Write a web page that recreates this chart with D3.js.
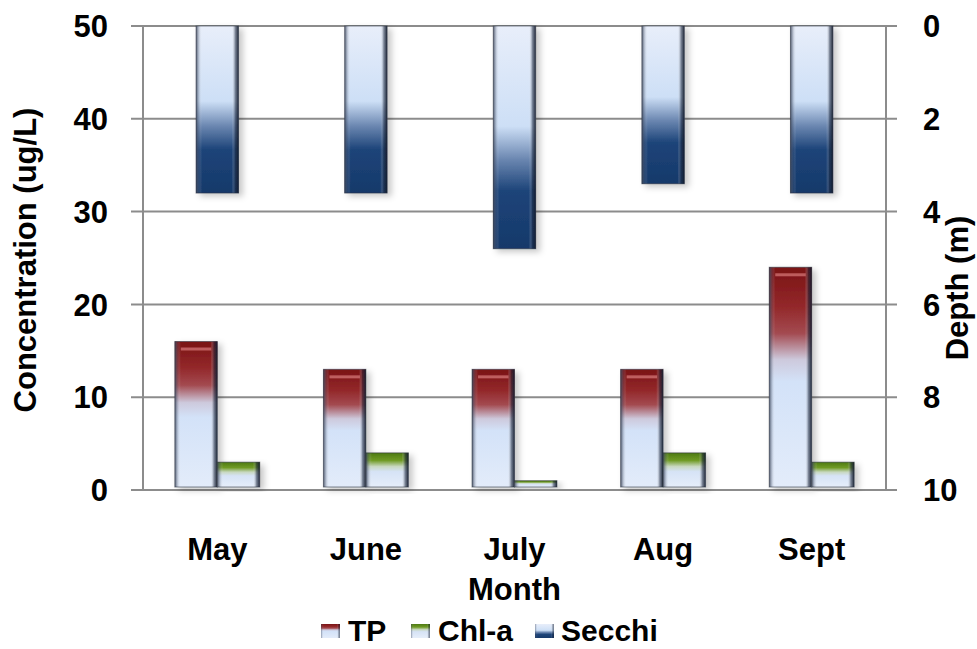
<!DOCTYPE html>
<html>
<head>
<meta charset="utf-8">
<script src="https://cdn.jsdelivr.net/npm/d3@7"></script>
<style>
  html, body { margin: 0; padding: 0; background: #fff; }
  svg { display: block; }
  text { font-family: "Liberation Sans", Arial, sans-serif; font-weight: bold; fill: #000; }
</style>
</head>
<body>
<svg id="chart" width="977" height="649"></svg>
<script>
const months = ["May", "June", "July", "Aug", "Sept"];
const tpValues = [16, 13, 13, 13, 24];
const chlValues = [3, 4, 1, 4, 3];
const secchiValues = [3.6, 3.6, 4.8, 3.4, 3.6];
const leftTicks = [0, 10, 20, 30, 40, 50];
const rightTicks = [0, 2, 4, 6, 8, 10];
const seriesNames = ["TP", "Chl-a", "Secchi"];

const W = 977, H = 649;
const plot = { left: 143, right: 886, top: 26, bottom: 490 };
const svg = d3.select("#chart");
const FS = 31;

const defs = svg.append("defs");
function vgrad(id, stops) {
  const g = defs.append("linearGradient").attr("id", id)
    .attr("x1", 0).attr("y1", 0).attr("x2", 0).attr("y2", 1);
  stops.forEach(s => g.append("stop").attr("offset", s[0]).attr("stop-color", s[1]));
}
vgrad("gTP", [[0, "#7a1315"], [0.18, "#93282a"], [0.3, "#a34a50"], [0.42, "#cdc9dc"], [0.52, "#d3e2f8"], [1, "#e3ecfa"]]);
vgrad("gChl", [[0, "#4d7a12"], [0.22, "#6f9a24"], [0.4, "#c8d8c0"], [0.55, "#d6e3f6"], [1, "#e6eefa"]]);
vgrad("gSec", [[0, "#e8eefa"], [0.45, "#cddff6"], [0.6, "#6a86b0"], [0.74, "#1d4479"], [1, "#16396a"]]);
// side shading
const hs = defs.append("linearGradient").attr("id", "gSide")
  .attr("x1", 0).attr("y1", 0).attr("x2", 1).attr("y2", 0);
[[0, "rgba(60,70,90,0.85)"], [0.07, "rgba(90,100,120,0.25)"], [0.14, "rgba(255,255,255,0)"],
 [0.84, "rgba(255,255,255,0)"], [0.92, "rgba(30,40,60,0.5)"], [1, "rgba(20,28,45,0.95)"]]
  .forEach(s => hs.append("stop").attr("offset", s[0]).attr("stop-color", s[1]));
const shadow = defs.append("filter").attr("id", "shadow")
  .attr("x", "-30%").attr("y", "-10%").attr("width", "170%").attr("height", "130%");
shadow.append("feDropShadow").attr("dx", 4).attr("dy", 3).attr("stdDeviation", 3)
  .attr("flood-color", "#000").attr("flood-opacity", 0.22);

const x = d3.scaleBand().domain(months).range([plot.left, plot.right]).padding(0);
const x1 = d3.scaleBand().domain(["TP", "Chl-a"]).range([0, x.bandwidth()])
  .paddingInner(0).paddingOuter(0.75);
const yL = d3.scaleLinear().domain([0, 50]).range([plot.bottom, plot.top]);
const yR = d3.scaleLinear().domain([0, 10]).range([plot.top, plot.bottom]);

// gridlines
const grid = svg.append("g");
grid.selectAll("line").data(leftTicks).join("line")
  .attr("x1", plot.left - 12).attr("x2", plot.right + 11)
  .attr("y1", d => yL(d)).attr("y2", d => yL(d))
  .attr("stroke", "#8c8c8c").attr("stroke-width", 2);
// axis lines
svg.append("line").attr("x1", plot.left).attr("x2", plot.left)
  .attr("y1", plot.top).attr("y2", plot.bottom).attr("stroke", "#8c8c8c").attr("stroke-width", 2);
svg.append("line").attr("x1", plot.right).attr("x2", plot.right)
  .attr("y1", plot.top).attr("y2", plot.bottom).attr("stroke", "#8c8c8c").attr("stroke-width", 2);

function bar(g, x0, w, y0, y1, fill) {
  const grp = g.append("g").attr("filter", "url(#shadow)");
  grp.append("rect").attr("x", x0).attr("y", y0).attr("width", w).attr("height", Math.max(1, y1 - y0))
    .attr("fill", fill);
  grp.append("rect").attr("x", x0).attr("y", y0).attr("width", w).attr("height", Math.max(1, y1 - y0))
    .attr("fill", "url(#gSide)");
  grp.append("rect").attr("x", x0).attr("y", y0).attr("width", w).attr("height", Math.max(1, y1 - y0))
    .attr("fill", "none").attr("stroke", "rgba(40,45,60,0.55)").attr("stroke-width", 1);
  return grp;
}

const bars = svg.append("g");
const base = plot.bottom - 3;
months.forEach((m, i) => {
  const bw = x1.bandwidth();
  const gTP = bar(bars, x(m) + x1("TP"), bw, yL(tpValues[i]), base, "url(#gTP)");
  gTP.append("rect").attr("x", x(m) + x1("TP") + 6).attr("y", yL(tpValues[i]) + 6)
    .attr("width", bw - 12).attr("height", 3).attr("fill", "rgba(240,150,150,0.55)");
  bar(bars, x(m) + x1("Chl-a"), bw, yL(chlValues[i]), base, "url(#gChl)");
  const cx = x(m) + x.bandwidth() / 2;
  bar(bars, cx - bw / 2, bw, plot.top, yR(secchiValues[i]), "url(#gSec)");
});

// left tick labels
svg.append("g").selectAll("text").data(leftTicks).join("text")
  .attr("x", 108).attr("y", d => yL(d)).attr("dy", "0.36em")
  .attr("text-anchor", "end").attr("font-size", FS).text(d => d);
// right tick labels
svg.append("g").selectAll("text").data(rightTicks).join("text")
  .attr("x", 923).attr("y", d => yR(d)).attr("dy", "0.36em")
  .attr("text-anchor", "start").attr("font-size", FS).text(d => d);
// x labels
svg.append("g").selectAll("text").data(months).join("text")
  .attr("x", d => x(d) + x.bandwidth() / 2).attr("y", 560)
  .attr("text-anchor", "middle").attr("font-size", FS).text(d => d);
svg.append("text").attr("x", (plot.left + plot.right) / 2).attr("y", 600)
  .attr("text-anchor", "middle").attr("font-size", FS).text("Month");
// axis titles
svg.append("text").attr("transform", `translate(36,${(plot.top + plot.bottom) / 2 + 2}) rotate(-90)`)
  .attr("text-anchor", "middle").attr("font-size", FS).text("Concentration (ug/L)");
svg.append("text").attr("transform", `translate(968,288) rotate(-90)`)
  .attr("text-anchor", "middle").attr("font-size", FS).text("Depth (m)");

// legend
const legendItems = [
  { name: seriesNames[0], sw: 321, tx: 348, grad: "gTP" },
  { name: seriesNames[1], sw: 411, tx: 438, grad: "gChl" },
  { name: seriesNames[2], sw: 535, tx: 561, grad: "gSec" }
];
const lg = svg.append("g");
legendItems.forEach(it => {
  lg.append("rect").attr("x", it.sw).attr("y", 624).attr("width", 19).attr("height", 14)
    .attr("fill", `url(#${it.grad})`);
  lg.append("rect").attr("x", it.sw).attr("y", 624).attr("width", 19).attr("height", 14)
    .attr("fill", "url(#gSide)").attr("opacity", 0.6);
  lg.append("text").attr("x", it.tx).attr("y", 641).attr("font-size", 30).text(it.name);
});
</script>
</body>
</html>
